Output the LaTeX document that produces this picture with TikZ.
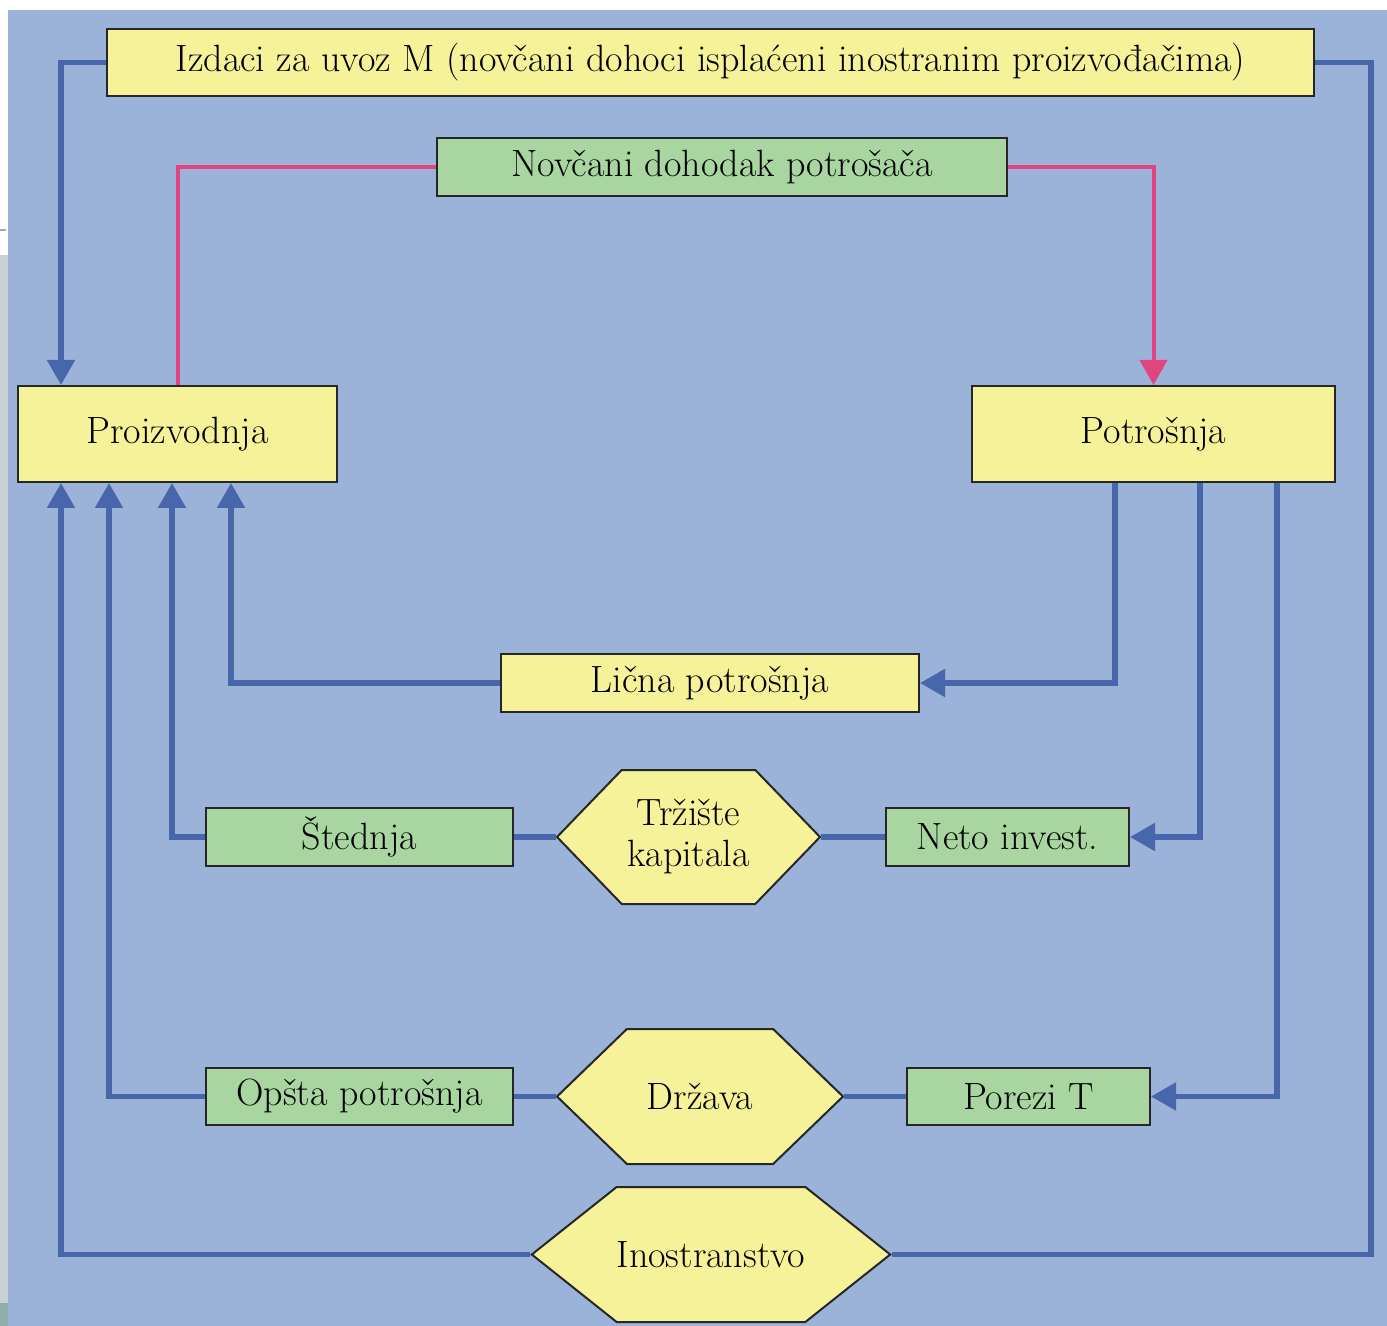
\documentclass[tikz,border=0pt]{standalone}
\usepackage{fontspec}
\usetikzlibrary{arrows.meta}
\usetikzlibrary{shapes.symbols}
\definecolor{bgblue}{HTML}{9BB3D9}
\definecolor{boxyellow}{HTML}{F5F29A}
\definecolor{boxgreen}{HTML}{A8D5A0}
\definecolor{flowblue}{HTML}{4866AA}
\definecolor{flowpink}{HTML}{E0457F}
\definecolor{stripgrey}{HTML}{C8D1D6}
\definecolor{stripgreen}{HTML}{8FB0AA}
\tikzset{
  box/.style={draw=black!85, line width=1pt, inner sep=0pt, text=black,
    font=\fontsize{19}{20.5}\selectfont},
  ybox/.style={box, fill=boxyellow},
  gbox/.style={box, fill=boxgreen},
  hexa/.style={box, fill=boxyellow, shape=signal, signal to=east and west, align=center},
  flow/.style={draw=flowblue, line width=2.6pt},
  money/.style={draw=flowpink, line width=2pt},
  >={Triangle[length=12.5pt,width=13.5pt]}
}

\begin{document}
\begin{tikzpicture}[x=0.5pt,y=-0.5pt]
  \useasboundingbox (0,0) rectangle (1387,1326);
  % page, strip on the left, blue background
  \fill[white] (0,0) rectangle (1387,1326);
  \fill[stripgrey] (0,255) rectangle (8,1303);
  \fill[stripgreen] (0,1303) rectangle (8,1326);
  \draw[stripgreen, line width=1pt] (0,230) -- (6,230);
  \fill[bgblue] (8,10) rectangle (1387,1326);

  % boxes
  \node[ybox, minimum width=603.5pt, minimum height=33.5pt] (izdaci) at (710.5,62.5)
    {Izdaci za uvoz M (novčani dohoci isplaćeni inostranim proizvođačima)};
  \node[gbox, minimum width=285pt, minimum height=29pt] (dohodak) at (722,167) {Novčani dohodak potrošača};
  \node[ybox, minimum width=159.5pt, minimum height=48pt] (proizv) at (177.5,434) {Proizvodnja};
  \node[ybox, minimum width=181.5pt, minimum height=48pt] (potros) at (1153.5,434) {Potrošnja};
  \node[ybox, minimum width=209pt, minimum height=29pt] (licna) at (710,683) {Lična potrošnja};
  \node[gbox, minimum width=153.5pt, minimum height=29pt] (stednja) at (359.5,837) {Štednja};
  \node[gbox, minimum width=121.5pt, minimum height=29pt] (neto) at (1007.5,837) {Neto invest.};
  \node[gbox, minimum width=153.5pt, minimum height=28.5pt] (opsta) at (359.5,1096.5) {Opšta potrošnja};
  \node[gbox, minimum width=121.5pt, minimum height=28.5pt] (porezi) at (1028.5,1096.5) {Porezi T};

  % hexagons
  \node[hexa, signal pointer angle=92, minimum width=131.5pt, minimum height=67pt] (trziste) at (688.5,837) {Tržište\\kapitala};
  \node[hexa, signal pointer angle=88, minimum width=143pt, minimum height=67.5pt] (drzava) at (700,1096.5) {Država};
  \node[hexa, signal pointer angle=77, minimum width=176pt, minimum height=67.5pt] (inos) at (711,1254.5) {Inostranstvo};

  % flows
  \draw[money] (proizv.north) |- (dohodak.west);
  \draw[money,->] (dohodak.east) -| (potros.north);
  \draw[flow,->] (izdaci.west) -| ([xshift=22pt]proizv.north west);
  \draw[flow] (izdaci.east) -- ++(28pt,0) |- (inos.east);
  \draw[flow,->] (inos.west) -| ([xshift=22pt]proizv.south west);
  \draw[flow,->] ([xshift=72pt]potros.south west) |- (licna.east);
  \draw[flow,->] (licna.west) -| ([xshift=107pt]proizv.south west);
  \draw[flow,->] ([xshift=114.5pt]potros.south west) |- (neto.east);
  \draw[flow] (neto.west) -- (trziste.east);
  \draw[flow] (trziste.west) -- (stednja.east);
  \draw[flow,->] (stednja.west) -| ([xshift=77.5pt]proizv.south west);
  \draw[flow,->] ([xshift=153pt]potros.south west) |- (porezi.east);
  \draw[flow] (porezi.west) -- (drzava.east);
  \draw[flow] (drzava.west) -- (opsta.east);
  \draw[flow,->] (opsta.west) -| ([xshift=46pt]proizv.south west);
\end{tikzpicture}
\end{document}
